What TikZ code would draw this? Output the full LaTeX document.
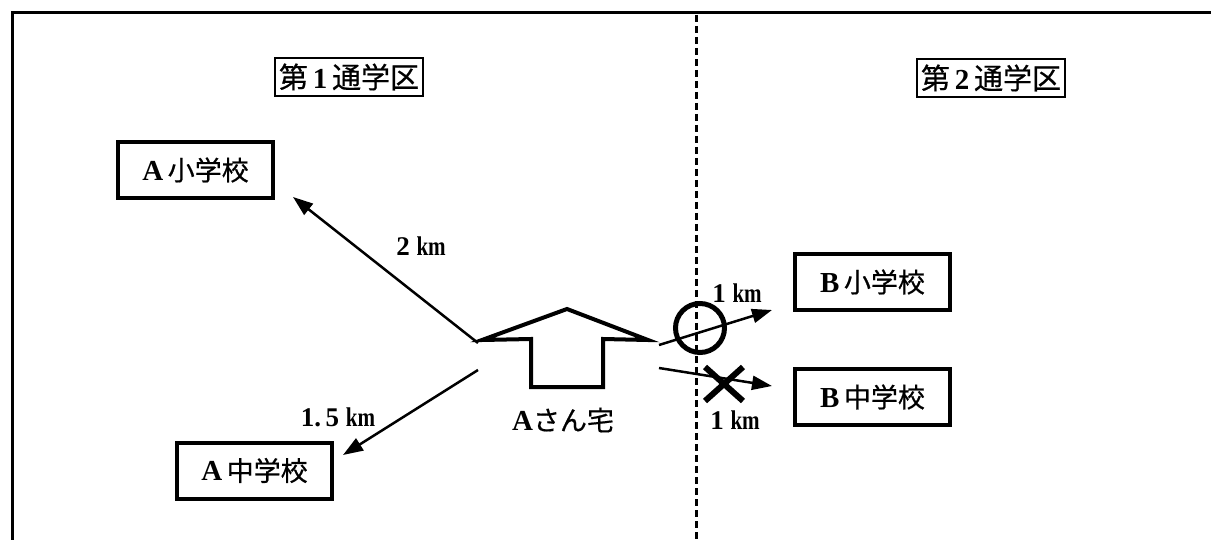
\documentclass[tikz,border=0pt]{standalone}
\usepackage{fontspec}
\setmainfont{Liberation Serif}
\newfontfamily\jp[FakeBold=0.6]{Noto Sans CJK JP}
\usetikzlibrary{arrows.meta}
\newcommand\lat[1]{{\rmfamily\bfseries\fontsize{29}{30}\selectfont #1}}
\newcommand\km{\scalebox{0.78}[1]{km}}

\begin{document}
\begin{tikzpicture}[x=1pt,y=-1pt,
  school/.style={draw, line width=4pt, minimum width=155pt, minimum height=56pt,
                 inner sep=0pt, font=\fontsize{27}{30}\selectfont\jp},
  area/.style={draw, line width=2.5pt, minimum width=148pt, minimum height=38pt,
               inner sep=0pt, font=\fontsize{29}{32}\selectfont\jp},
  route/.style={line width=2.5pt, -{Triangle[length=20pt,width=14pt]}},
  dist/.style={inner sep=0pt, font=\fontsize{27}{30}\selectfont\bfseries},
  house/.style={line width=4pt, line join=miter}
]
\useasboundingbox (0,0) rectangle (1211,540);

% outer frame and district border
\draw[line width=3pt] (12,541) -- (12,13) -- (1212,13);
\draw[line width=3pt, dash pattern=on 7pt off 4pt] (696,15) -- (696,541);

% district titles
\node[area] (d1) at (349,77) {第\,\lat{1}\,通学区};
\node[area] (d2) at (991,78) {第\,\lat{2}\,通学区};

% schools
\node[school] (as) at (195.5,170) {\lat{A}\,小学校};
\node[school] (ac) at (254.5,470.5) {\lat{A}\,中学校};
\node[school] (bs) at (872.5,282) {\lat{B}\,小学校};
\node[school] (bc) at (872.5,397) {\lat{B}\,中学校};

% home marker
\draw[house] (567,309) -- (648,340) -- (603,339) -- (603,387) -- (531,387)
  -- (531,339) -- (482,340) -- cycle;
\node[inner sep=0pt, font=\fontsize{27}{30}\selectfont\jp] (home) at (563,420) {\lat{A}さん宅};

% route end points
\coordinate (h1) at (478,343);
\coordinate (h2) at (478,370);
\coordinate (h3) at (659,345);
\coordinate (h4) at (659,368);
\coordinate (e1) at (293,197);
\coordinate (e2) at (343,455);
\coordinate (e3) at (772,310);
\coordinate (e4) at (772,386);

\draw[route] (h1) -- (e1);
\draw[route] (h2) -- (e2);

% allowed / not allowed marks
\draw[line width=5pt] (700,328) circle[radius=24.5];
\draw[line width=6pt] (705,367) -- (743,401) (743,367) -- (705,401);

\draw[route] (h3) -- (e3);
\draw[route] (h4) -- (e4);

% distances
\node[dist] (k1) at (421,246) {2 \km};
\node[dist] (k2) at (338,417) {1.\,5 \km};
\node[dist] (k3) at (737,293) {1 \km};
\node[dist] (k4) at (735,420) {1 \km};
\end{tikzpicture}
\end{document}
